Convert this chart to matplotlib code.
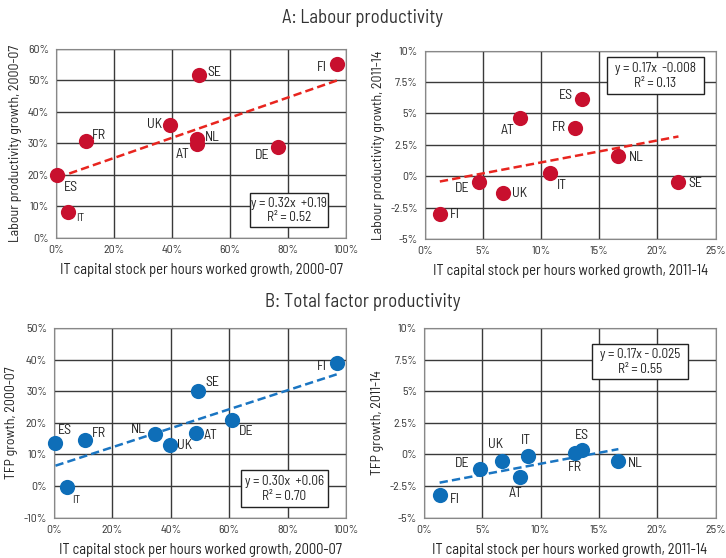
import matplotlib
matplotlib.use("Agg")
import matplotlib.pyplot as plt
from matplotlib.patches import Rectangle
import numpy as np

plt.rcParams['font.family'] = ['Barlow Semi Condensed', 'DejaVu Sans']
plt.rcParams['lines.scale_dashes'] = False

# ---------------- data (percent) ----------------
lp1_countries = ['ES', 'IT', 'FR', 'UK', 'SE', 'NL', 'AT', 'DE', 'FI']
lp1_x = [0.5, 4.1, 10.3, 39.4, 49.2, 48.5, 48.5, 76.6, 96.9]
lp1_y = [20.1, 8.2, 30.8, 36.0, 51.8, 31.4, 29.8, 28.9, 55.3]
lp1_fit = (0.32, 0.19)

lp2_countries = ['FI', 'DE', 'UK', 'AT', 'IT', 'FR', 'ES', 'NL', 'SE']
lp2_x = [1.3, 4.7, 6.7, 8.2, 10.8, 12.9, 13.5, 16.6, 21.8]
lp2_y = [-3.0, -0.5, -1.35, 4.67, 0.29, 3.87, 6.15, 1.62, -0.45]
lp2_fit = (0.175, -0.0065)

tfp1_countries = ['ES', 'IT', 'FR', 'NL', 'UK', 'AT', 'SE', 'DE', 'FI']
tfp1_x = [0.5, 4.6, 10.7, 34.5, 39.8, 48.7, 49.3, 60.8, 96.8]
tfp1_y = [13.65, -0.4, 14.6, 16.4, 12.9, 16.8, 30.2, 21.0, 38.8]
tfp1_fit = (0.30, 0.063)

tfp2_countries = ['FI', 'DE', 'UK', 'AT', 'IT', 'FR', 'ES', 'NL']
tfp2_x = [1.34, 4.77, 6.69, 8.26, 8.89, 12.9, 13.5, 16.66]
tfp2_y = [-3.2, -1.14, -0.54, -1.8, -0.09, 0.1, 0.36, -0.54]
tfp2_fit = (0.173, -0.0246)

eq_texts = [("y = 0.32x  +0.19", "R² = 0.52"),
            ("y = 0.17x  -0.008", "R² = 0.13"),
            ("y = 0.30x  +0.06", "R² = 0.70"),
            ("y = 0.17x - 0.025", "R² = 0.55")]

# label offsets in pixels (dx, dy)
lp1_off = [(13, -13), (12, -6), (13, 5), (-16, 0), (16, 2), (16, 2), (-14, -10), (-16, -9), (-15, -4)]
lp2_off = [(15, -1), (-17, -6), (17, 0), (-13, -13), (12, -13), (-16, 0), (-16, 4), (18, -2), (17, -2)]
tfp1_off = [(9, 12), (9, -13), (14, 6), (-17, 5), (14, 0), (14, -3), (14, 8), (15, -12), (-15, -3)]
tfp2_off = [(15, -5), (-17, 5), (-6, 17), (-5, -16), (-2, 15), (0, -14), (0, 14), (17, -2)]

RED = '#C8102E'
RED_LINE = '#E8251F'
BLUE = '#0E6EB8'
BLUE_LINE = '#1A75C2'
GRID = '#3a3a3a'

fig = plt.figure(figsize=(7.26, 5.58), dpi=100)

panels = [
    dict(rect=[0.0771, 0.5735, 0.3994, 0.3387], c=lp1_countries, x=lp1_x, y=lp1_y, fit=lp1_fit,
         off=lp1_off, col=RED, lcol=RED_LINE, xlim=(0, 100), xt=np.arange(0, 101, 20),
         ylim=(0, 60), yt=np.arange(0, 61, 10),
         ylabel='Labour productivity growth, 2000-07',
         xlabel='IT capital stock per hours worked growth, 2000-07',
         box=(0.669, 0.058, 0.269, 0.180), eq=eq_texts[0], small=['IT']),
    dict(rect=[0.585, 0.5717, 0.4008, 0.3375], c=lp2_countries, x=lp2_x, y=lp2_y, fit=lp2_fit,
         off=lp2_off, col=RED, lcol=RED_LINE, xlim=(0, 25), xt=np.arange(0, 26, 5),
         ylim=(-5, 10), yt=np.arange(-5, 10.1, 2.5),
         ylabel='Labour productivity growth, 2011-14',
         xlabel='IT capital stock per hours worked growth, 2011-14',
         box=(0.626, 0.770, 0.334, 0.196), eq=eq_texts[1], small=[]),
    dict(rect=[0.0744, 0.0722, 0.4022, 0.34], c=tfp1_countries, x=tfp1_x, y=tfp1_y, fit=tfp1_fit,
         off=tfp1_off, col=BLUE, lcol=BLUE_LINE, xlim=(0, 100), xt=np.arange(0, 101, 20),
         ylim=(-10, 50), yt=np.arange(-10, 51, 10),
         ylabel='TFP growth, 2000-07',
         xlabel='IT capital stock per hours worked growth, 2000-07',
         box=(0.640, 0.056, 0.298, 0.195), eq=eq_texts[2], small=['IT']),
    dict(rect=[0.584, 0.0722, 0.4018, 0.34], c=tfp2_countries, x=tfp2_x, y=tfp2_y, fit=tfp2_fit,
         off=tfp2_off, col=BLUE, lcol=BLUE_LINE, xlim=(0, 25), xt=np.arange(0, 26, 5),
         ylim=(-5, 10), yt=np.arange(-5, 10.1, 2.5),
         ylabel='TFP growth, 2011-14',
         xlabel='IT capital stock per hours worked growth, 2011-14',
         box=(0.576, 0.731, 0.329, 0.185), eq=eq_texts[3], small=[]),
]


def pct(v):
    if abs(v - round(v)) < 1e-9:
        return f"{int(round(v))}%"
    return f"{v:g}%"


for p in panels:
    ax = fig.add_axes(p['rect'])
    ax.set_xlim(*p['xlim'])
    ax.set_ylim(*p['ylim'])
    ax.set_xticks(p['xt'])
    ax.set_yticks(p['yt'])
    ax.set_xticklabels([pct(v) for v in p['xt']])
    ax.set_yticklabels([pct(v) for v in p['yt']])
    ax.tick_params(length=0, labelsize=8.5, colors='#333333', pad=5)
    ax.grid(True, color=GRID, linewidth=1.0)
    ax.set_axisbelow(True)
    for s in ax.spines.values():
        s.set_color('#888888')
        s.set_linewidth(0.8)
    xs = np.array(p['x'])
    ys = np.array(p['y'])
    slope, icpt = p['fit']
    xx = np.array([xs.min(), xs.max()])
    ax.plot(xx, slope * xx + icpt * 100, color=p['lcol'], lw=1.8, dashes=(6, 3), zorder=3)
    ax.scatter(xs, ys, s=120, color=p['col'], zorder=4, linewidths=0, clip_on=False)
    for name, xv, yv, (dx, dy) in zip(p['c'], xs, ys, p['off']):
        fs = 8 if name in p['small'] else 10
        ax.annotate(name, (xv, yv), xytext=(dx, dy), textcoords='offset pixels',
                    ha='center', va='center', fontsize=fs, color='#222222', zorder=5)
    bx, by, bw, bh = p['box']
    ax.add_patch(Rectangle((bx, by), bw, bh, transform=ax.transAxes, facecolor='white',
                           edgecolor='#222222', linewidth=1.0, zorder=6))
    ax.text(bx + bw / 2, by + bh * 0.70, p['eq'][0], transform=ax.transAxes, ha='center',
            va='center', fontsize=9.5, color='#222222', zorder=7)
    ax.text(bx + bw / 2, by + bh * 0.28, p['eq'][1], transform=ax.transAxes, ha='center',
            va='center', fontsize=9.5, color='#222222', zorder=7)
    ax.set_xlabel(p['xlabel'], fontsize=10.5, color='#222222', labelpad=6)
    ax.set_ylabel(p['ylabel'], fontsize=10, color='#222222', labelpad=4)

fig.text(0.5, 1 - 18 / 558, 'A: Labour productivity', ha='center', va='center', fontsize=13.5, color='#333333')
fig.text(0.5, 1 - 302 / 558, 'B: Total factor productivity', ha='center', va='center', fontsize=13.5, color='#333333')

fig.savefig('out.png', dpi=100)
